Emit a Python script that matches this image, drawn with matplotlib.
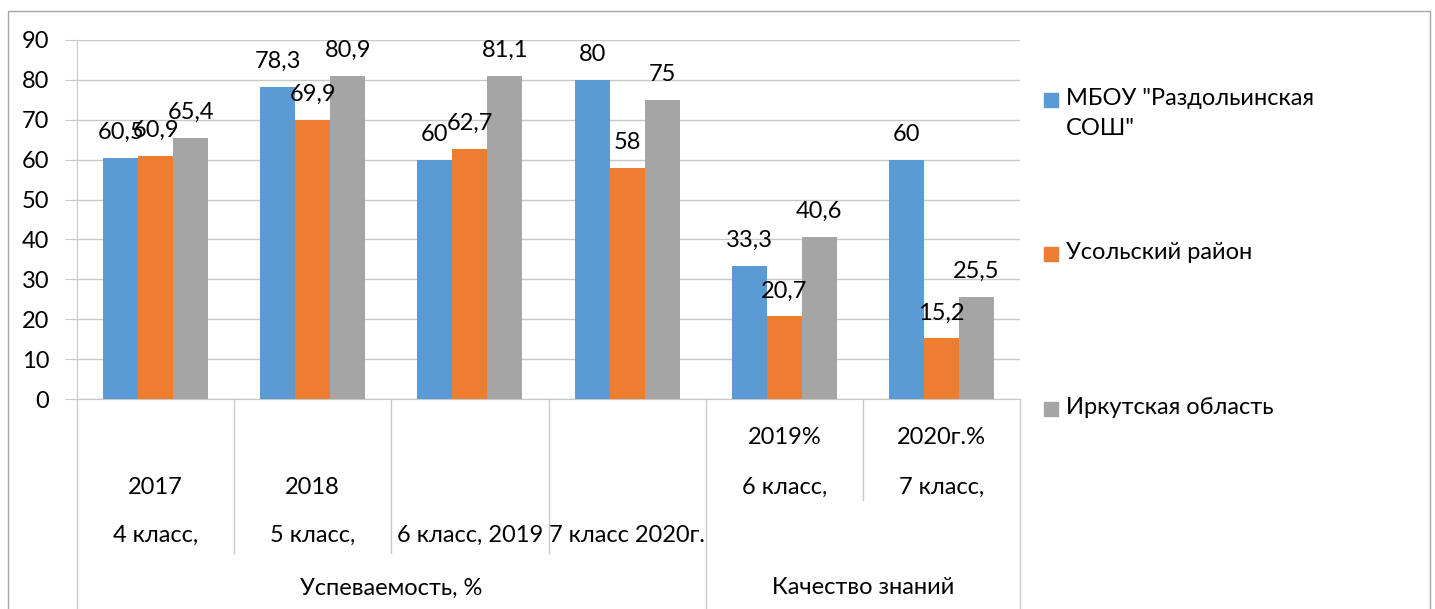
import numpy as np
import matplotlib.pyplot as plt
from matplotlib.patches import Rectangle
import matplotlib.transforms as mtransforms

plt.rcParams['font.family'] = ['Lato', 'DejaVu Sans']

# Data
# ----
series = ['МБОУ "Раздольинская\nСОШ"', 'Усольский район', 'Иркутская область']
colors = ['#5B9BD5', '#ED7D31', '#A5A5A5']
school = [60.5, 78.3, 60, 80, 33.3, 60]
district = [60.9, 69.9, 62.7, 58, 20.7, 15.2]
region = [65.4, 80.9, 81.1, 75, 40.6, 25.5]
cat_lines = [['2017', '4 класс,'], ['2018', '5 класс,'], ['6 класс, 2019'],
             ['7 класс 2020г.'], ['2019%', '6 класс,'], ['2020г.%', '7 класс,']]
groups = ['Успеваемость, %', 'Качество знаний']
group_span = [(0, 3), (4, 5)]

W, H = 1435, 609
fig = plt.figure(figsize=(W/100, H/100), dpi=100)
ax = fig.add_axes([77/W, (H-399)/H, (1020-77)/W, (399-40)/H])

fs = 17
grid_c = '#c8c8c8'
x = np.arange(len(school))
bw = 35/157.2
for i, vals in enumerate([school, district, region]):
    bars = ax.bar(x + (i-1)*bw, vals, bw, color=colors[i], zorder=3)
    for b, v in zip(bars, vals):
        ax.annotate(('%g' % v).replace('.', ','), (b.get_x()+b.get_width()/2, v),
                    xytext=(0, 15), textcoords='offset pixels',
                    ha='center', va='bottom', fontsize=fs, zorder=4)

ax.set_xlim(-0.5, 5.5)
ax.set_ylim(0, 90)
ax.set_yticks(range(0, 91, 10))
ax.yaxis.grid(True, color=grid_c, lw=1, zorder=0)
ax.tick_params(axis='y', length=9, color=grid_c, labelsize=fs, pad=11)
ax.set_xticks([])
for s in ['top', 'right']:
    ax.spines[s].set_visible(False)
ax.spines['left'].set_color(grid_c)
ax.spines['bottom'].set_color(grid_c)

# Multi-level category axis
# -------------------------
tr = mtransforms.blended_transform_factory(ax.transData, ax.transAxes)
py = lambda p: (399 - p)/359.
sep_end = [609, 553, 553, 553, 609, 500, 609]
for k, e in enumerate(sep_end):
    ax.plot([k-0.5, k-0.5], [0, py(e)], color=grid_c, lw=1, transform=tr, clip_on=False)

rows = [437, 487, 535]
for k, lines in enumerate(cat_lines):
    if k < 4:
        start = 3 - len(lines)
    else:
        start = 0
    for j, t in enumerate(lines):
        ax.text(k, py(rows[start+j]), t, transform=tr, ha='center', va='center', fontsize=fs)

for g, (a, b) in zip(groups, group_span):
    ax.text((a+b)/2, py(588), g, transform=tr, ha='center', va='center', fontsize=fs)

# Legend
# ------
leg_y = [100, 254, 409]
for lbl, c, yy in zip(series, colors, leg_y):
    fig.add_artist(Rectangle((1044/W, 1-(yy+7)/H), 14/W, 14/H, color=c,
                             transform=fig.transFigure))
    fig.text(1066/W, 1-(yy-12)/H, lbl, ha='left', va='top', fontsize=fs,
             linespacing=1.55)

# Outer border
fig.add_artist(Rectangle((8/W, -0.05), 1422/W, 1.05-11/H, fill=False,
                         ec='#a6a6a6', lw=1, transform=fig.transFigure))

fig.savefig('out.png', dpi=100)
